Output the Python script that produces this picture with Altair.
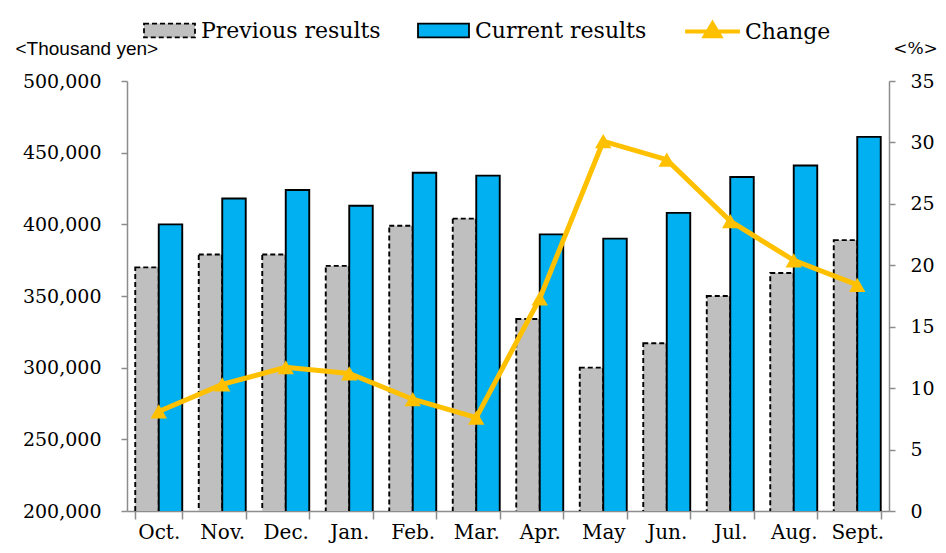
import altair as alt
import pandas as pd

months = ["Oct.", "Nov.", "Dec.", "Jan.", "Feb.", "Mar.", "Apr.", "May", "Jun.", "Jul.", "Aug.", "Sept."]
previous = [370000, 379000, 379000, 371000, 399000, 404000, 334000, 300000, 317000, 350000, 366000, 389000]
current = [400000, 418000, 424000, 413000, 436000, 434000, 393000, 390000, 408000, 433000, 441000, 461000]
change = [8.1, 10.3, 11.7, 11.2, 9.1, 7.6, 17.3, 30.1, 28.6, 23.6, 20.4, 18.4]
series = ["Previous results", "Current results"]
bar_colors = ["#BFBFBF", "#00B0F0"]

rows = []
for m, p, c in zip(months, previous, current):
    rows.append({"month": m, "series": series[0], "value": p})
    rows.append({"month": m, "series": series[1], "value": c})
df_bars = pd.DataFrame(rows)
df_line = pd.DataFrame({"month": months, "change": change, "label": ["Change"] * len(months)})

SERIF = "DejaVu Serif"
ORANGE = "#FFC000"
RECT = "M-1,-0.27H1V0.27H-1Z"

x_enc = alt.X("month:N", sort=months, title=None,
              scale=alt.Scale(paddingInner=0.26, paddingOuter=0.13),
              axis=alt.Axis(labelAngle=0, tickBand="extent", tickSize=8, labelPadding=3,
                            labelFontSize=20))

prev_legend = alt.Legend(title=None, orient="none", legendX=16, legendY=-77,
                         values=[series[0]], symbolType=RECT, symbolSize=2600,
                         symbolStrokeColor="black", symbolStrokeWidth=1.8, symbolDash=[5, 3],
                         symbolFillColor=bar_colors[0],
                         labelFont=SERIF, labelFontSize=22, labelOffset=5, labelLimit=400,
                         symbolOpacity=1)
cur_legend = alt.Legend(title=None, orient="none", legendX=290, legendY=-77,
                        values=[series[1]], symbolType=RECT, symbolSize=2600,
                        symbolStrokeColor="black", symbolStrokeWidth=1.8, symbolDash=[1, 0],
                        symbolFillColor=bar_colors[1],
                        labelFont=SERIF, labelFontSize=22, labelOffset=5, labelLimit=400,
                        symbolOpacity=1)

bars = alt.Chart(df_bars).mark_bar(stroke="black", strokeWidth=1.9, clip=True).encode(
    x=x_enc,
    xOffset=alt.XOffset("series:N", sort=series, scale=alt.Scale(paddingInner=0, paddingOuter=0)),
    y=alt.Y("value:Q", scale=alt.Scale(domain=[200000, 500000], zero=False),
            axis=alt.Axis(format=",.0f", values=list(range(200000, 500001, 50000)), orient="left",
                          tickSize=6, labelPadding=20, labelFontSize=19, title="<Thousand yen>",
                          titleFont="Liberation Sans", titleFontSize=19, titleFontWeight="normal",
                          titleAngle=0, titleAlign="left", titleBaseline="middle",
                          titleX=-112, titleY=-33)),
    color=alt.Color("series:N", sort=series,
                    scale=alt.Scale(domain=series, range=bar_colors),
                    legend=prev_legend),
    strokeDash=alt.StrokeDash("series:N", sort=series,
                              scale=alt.Scale(domain=series, range=[[5, 3], [1, 0]]),
                              legend=cur_legend),
)

y_right = alt.Y("change:Q", scale=alt.Scale(domain=[0, 35]),
                axis=alt.Axis(orient="right", values=list(range(0, 36, 5)), tickSize=6,
                              labelPadding=15, labelFontSize=19, title="<%>", titleFont=SERIF,
                              titleFontSize=17, titleFontWeight="normal", titleAngle=0,
                              titleAlign="center", titleBaseline="middle", titleX=26, titleY=-33))

line = alt.Chart(df_line).mark_line(strokeWidth=5).encode(
    x=alt.X("month:N", sort=months),
    y=y_right,
    color=alt.Color("label:N", scale=alt.Scale(domain=["Change"], range=[ORANGE]),
                    legend=alt.Legend(title=None, orient="none", legendX=556, legendY=-79,
                                      symbolType="M-1,0H1M-0.28,0.17L0,-0.3L0.28,0.17Z",
                                      symbolSize=3000, symbolStrokeWidth=4,
                                      symbolFillColor=ORANGE, symbolStrokeColor=ORANGE,
                                      labelFont=SERIF, labelFontSize=22, labelOffset=3,
                                      labelLimit=300)),
)

points = alt.Chart(df_line).mark_point(shape="triangle-up", filled=True, size=270,
                                       color=ORANGE, opacity=1).encode(
    x=alt.X("month:N", sort=months),
    y=y_right,
)

right = alt.layer(line, points)

chart = alt.layer(bars, right).resolve_scale(
    y="independent", color="independent"
).properties(
    width=762, height=430, autosize=alt.AutoSizeParams(type="none"),
    padding={"left": 119, "top": 73, "right": 49, "bottom": 34},
).configure_view(stroke=None).configure_axis(
    labelFont=SERIF, labelFontSize=18, labelColor="black", domainColor="#8c8c8c",
    tickColor="#8c8c8c", domainWidth=1.5, tickWidth=1.5, grid=False, titleColor="black"
).configure_legend(labelColor="black")

chart.save("out.html", embed_options={"renderer": "svg", "actions": False})
